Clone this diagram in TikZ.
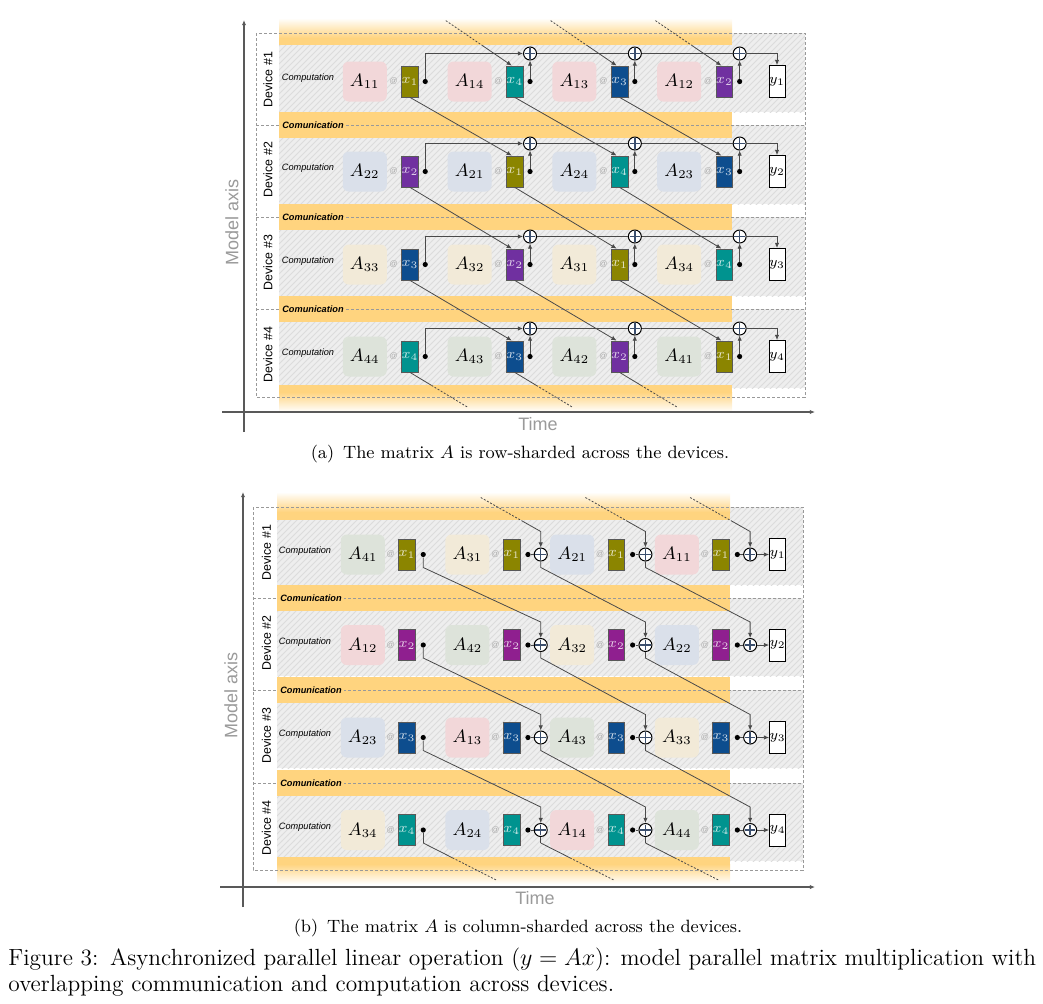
\documentclass[tikz,border=0pt]{standalone}
\usepackage{fontspec}
\setsansfont{Liberation Sans}
\usepackage{tikz}
\usetikzlibrary{positioning}
\usetikzlibrary{calc}
\usetikzlibrary{patterns}
\usetikzlibrary{arrows.meta}

\definecolor{commyellow}{HTML}{FFD47F}
\definecolor{hatchbg}{HTML}{EEEEEE}
\definecolor{hatchline}{HTML}{DCDCDC}
\definecolor{linegray}{HTML}{4A4A4A}
\definecolor{axisgray}{HTML}{9A9A9A}
\definecolor{plusblue}{HTML}{3B4F6E}
% vector colours
\definecolor{xa1}{HTML}{8B8500}
\definecolor{xa2}{HTML}{7030A0}
\definecolor{xa3}{HTML}{0D4D8E}
\definecolor{xa4}{HTML}{00938F}
\colorlet{xb1}{xa1}
\definecolor{xb2}{HTML}{8F1F8F}
\colorlet{xb3}{xa3}
\colorlet{xb4}{xa4}
% block colours (by row of A)
\definecolor{ac1}{HTML}{F2D7D9}
\definecolor{ac2}{HTML}{DAE0EA}
\definecolor{ac3}{HTML}{F2EAD8}
\definecolor{ac4}{HTML}{DDE3DA}

\tikzset{
  ablock/.style={rounded corners=3pt, minimum width=22pt, minimum height=20pt, inner sep=0pt, font=\fontsize{8.6}{9}\selectfont},
  xbox/.style={draw=gray!70!black, line width=0.4pt, minimum width=8pt, minimum height=15.5pt, inner sep=0pt, font=\fontsize{7.4}{8}\selectfont},
  ybox/.style={draw=black, line width=0.5pt, fill=white, minimum width=8pt, minimum height=16pt, inner sep=0pt, font=\fontsize{7.4}{8}\selectfont},
  sumnode/.style={circle, draw=black, line width=0.5pt, fill=white, minimum size=6.5pt, inner sep=0pt,
    path picture={\draw[plusblue, line width=0.7pt]
      ([yshift=-0.6pt]path picture bounding box.north) -- ([yshift=0.6pt]path picture bounding box.south)
      ([xshift=0.6pt]path picture bounding box.west) -- ([xshift=-0.6pt]path picture bounding box.east);}},
  dotnode/.style={circle, fill=black, minimum size=2.6pt, inner sep=0pt},
  atsign/.style={text=gray!65, font=\sffamily\fontsize{4}{4}\selectfont, inner sep=0pt},
  conn/.style={draw=linegray, line width=0.4pt},
  fadeline/.style={conn, dash pattern=on 1pt off 0.8pt},
  hatched/.style={fill=hatchbg, postaction={pattern=north east lines, pattern color=hatchline}},
  boxline/.style={draw=gray!80, line width=0.5pt, dash pattern=on 1.5pt off 1pt},
  devlabel/.style={rotate=90, font=\sffamily\fontsize{6.2}{6.2}\selectfont, inner sep=0pt},
  comptext/.style={font=\sffamily\itshape\fontsize{4.6}{5}\selectfont, inner sep=0pt},
  commtext/.style={font=\sffamily\bfseries\itshape\fontsize{4.6}{5}\selectfont, fill=commyellow, inner sep=1pt},
  axisline/.style={draw=gray!70!black, line width=0.6pt},
  axislabel/.style={text=axisgray, font=\sffamily\fontsize{9}{9}\selectfont, inner sep=0pt},
  subcap/.style={font=\fontsize{8.9}{10}\selectfont, inner sep=0pt},
  figcap/.style={font=\fontsize{11.7}{13}\selectfont, inner sep=0pt, anchor=west},
}

\begin{document}
\begin{tikzpicture}[x=0.5pt, y=-0.5pt, >={Latex[length=2.6pt,width=2.2pt]}]
\useasboundingbox (0,0) rectangle (1043,1003);

%% (a) row-sharded
% background
\foreach \t in {33,125,217,309} {
  \fill[hatched] (279,\t) rectangle (805,\t+79);
}
\foreach \t in {125,217,309} {
  \fill[commyellow] (279,\t-13) rectangle (732,\t+13);
}
\shade[top color=white, bottom color=commyellow] (279,18) rectangle (732,38);
\fill[commyellow] (279,38) rectangle (732,45);
\fill[commyellow] (279,385) rectangle (732,392);
\shade[top color=commyellow, bottom color=white] (279,392) rectangle (732,412);
\draw[boxline] (256,33) rectangle (805,397);
\foreach \t in {125,217,309} {
  \draw[boxline] (256,\t) -- (805,\t);
  \node[commtext] (a-comm-\t) at (313,\t) {Comunication};
}

% axes
\draw[axisline, ->] (244,432) -- (244,20);
\draw[axisline, ->] (222,412) -- (815,412);
\node[axislabel, rotate=90] (a-model) at (232,222) {Model axis};
\node[axislabel] (a-time) at (538,424) {Time};

% devices
\foreach \i/\ry in {1/81.5,2/171.5,3/264.5,4/356.5} {
  \node[devlabel] (a-dev-\i) at (268,\ry-2) {Device \#\i};
  \node[comptext] (a-comp-\i) at (308,\ry-3) {Computation};
  \foreach \j in {1,...,4} {
    \pgfmathtruncatemacro{\cc}{mod(\i-\j+4,4)+1}
    \node[xbox, fill=xa\cc, text=white!78!xa\cc] (a-x-\i-\j) at (410+104.8*\j-104.8,\ry) {$x_{\cc}$};
    \node[atsign, left=1.5pt of a-x-\i-\j] (a-at-\i-\j) {@};
    \node[ablock, fill=ac\i, left=7pt of a-x-\i-\j] (a-A-\i-\j) {$A_{\i\cc}$};
    \node[dotnode, right=1.7pt of a-x-\i-\j] (a-dot-\i-\j) {};
    \ifnum\j>1
      \node[sumnode] (a-sum-\i-\j) at ($(a-dot-\i-\j)+(0,-28)$) {};
    \fi
  }
  \node[ybox] (a-y-\i) at (777,\ry) {$y_{\i}$};

  % partial sums
  \draw[conn, ->] (a-dot-\i-1) |- (a-sum-\i-2);
  \foreach \j in {2,3,4} {
    \draw[conn, ->] (a-dot-\i-\j) -- (a-sum-\i-\j);
  }
  \draw[conn] (a-sum-\i-2) -- (a-sum-\i-3) -- (a-sum-\i-4);
  \draw[conn, ->] (a-sum-\i-4) -| (a-y-\i);
}

% x pieces passed to the next device
\foreach \i in {1,2,3} {
  \foreach \j in {1,2,3} {
    \pgfmathtruncatemacro{\nn}{\i+1}
    \pgfmathtruncatemacro{\nk}{\j+1}
    \draw[conn, ->] (a-x-\i-\j.south) -- ([xshift=-1.5pt]a-x-\nn-\nk.north);
  }
}
% leaving device #4
\foreach \j in {1,2,3} {
  \coordinate (a-out-\j) at ($(a-x-4-\j.south)+(58,35)$);
  \coordinate (a-cut-\j) at ($(a-x-4-\j.south)!0.37!(a-out-\j)$);
  \draw[conn] (a-x-4-\j.south) -- (a-cut-\j);
  \draw[fadeline] (a-cut-\j) -- (a-out-\j);
}
% arriving at device #1
\foreach \j in {2,3,4} {
  \coordinate (a-tgt-\j) at ([xshift=-1.5pt]a-x-1-\j.north);
  \coordinate (a-in-\j) at ($(a-tgt-\j)+(-66,-45)$);
  \coordinate (a-cutin-\j) at ($(a-in-\j)!0.55!(a-tgt-\j)$);
  \draw[fadeline] (a-in-\j) -- (a-cutin-\j);
  \draw[conn, ->] (a-cutin-\j) -- (a-tgt-\j);
}

\node[subcap] (a-cap) at (520,454) {(a)\enspace The matrix $A$ is row-sharded across the devices.};

%% (b) column-sharded
% background
\foreach \t in {507,598,690,783} {
  \fill[hatched] (277,\t) rectangle (803,\t+78);
}
\foreach \t in {598,690,783} {
  \fill[commyellow] (277,\t-13) rectangle (730,\t+13);
}
\shade[top color=white, bottom color=commyellow] (277,492) rectangle (730,512);
\fill[commyellow] (277,512) rectangle (730,520);
\fill[commyellow] (277,857) rectangle (730,864);
\shade[top color=commyellow, bottom color=white] (277,864) rectangle (730,884);
\draw[boxline] (253,507) rectangle (803,870);
\foreach \t in {598,690,783} {
  \draw[boxline] (253,\t) -- (803,\t);
  \node[commtext] (b-comm-\t) at (311,\t) {Comunication};
}

% axes
\draw[axisline, ->] (243,907) -- (243,492);
\draw[axisline, ->] (220,887) -- (815,887);
\node[axislabel, rotate=90] (b-model) at (231,695) {Model axis};
\node[axislabel] (b-time) at (535,898) {Time};

% devices
\foreach \i/\ry in {1/554.5,2/645,3/737.5,4/830} {
  \node[devlabel] (b-dev-\i) at (266.5,\ry-2) {Device \#\i};
  \node[comptext] (b-comp-\i) at (305,\ry-3) {Computation};
  \foreach \j in {1,...,4} {
    \pgfmathtruncatemacro{\rr}{mod(\i-\j+7,4)+1}
    \node[xbox, fill=xb\i, text=white!78!xb\i] (b-x-\i-\j) at (407+104.7*\j-104.7,\ry) {$x_{\i}$};
    \node[atsign, left=1.5pt of b-x-\i-\j] (b-at-\i-\j) {@};
    \node[ablock, fill=ac\rr, left=6.5pt of b-x-\i-\j] (b-A-\i-\j) {$A_{\rr\i}$};
    \node[dotnode, right=2.2pt of b-x-\i-\j] (b-dot-\i-\j) {};
    \ifnum\j>1
      \node[sumnode, right=1.4pt of b-dot-\i-\j] (b-sum-\i-\j) {};
      \draw[conn] (b-dot-\i-\j) -- (b-sum-\i-\j);
    \fi
  }
  \node[ybox, right=6pt of b-sum-\i-4] (b-y-\i) {$y_{\i}$};
  \draw[conn, ->] (b-sum-\i-4) -- (b-y-\i);
}

% partial sums passed to the next device
\foreach \i in {1,2,3} {
  \pgfmathtruncatemacro{\nn}{\i+1}
  \draw[conn, ->] (b-dot-\i-1) -- ++(0,13) -- ($(b-sum-\nn-2)+(0,-23)$) -- (b-sum-\nn-2);
  \foreach \j in {2,3} {
    \pgfmathtruncatemacro{\nk}{\j+1}
    \draw[conn, ->] (b-sum-\i-\j) -- ++(0,13) -- ($(b-sum-\nn-\nk)+(0,-23)$) -- (b-sum-\nn-\nk);
  }
}
% leaving device #4
\coordinate (b-drop-1) at ($(b-dot-4-1)+(0,13)$);
\draw[conn] (b-dot-4-1) -- (b-drop-1);
\foreach \j in {2,3} {
  \coordinate (b-drop-\j) at ($(b-sum-4-\j)+(0,13)$);
  \draw[conn] (b-sum-4-\j) -- (b-drop-\j);
}
\foreach \j in {1,2,3} {
  \coordinate (b-out-\j) at ($(b-drop-\j)+(73,37)$);
  \coordinate (b-cut-\j) at ($(b-drop-\j)!0.4!(b-out-\j)$);
  \draw[conn] (b-drop-\j) -- (b-cut-\j);
  \draw[fadeline] (b-cut-\j) -- (b-out-\j);
}
% arriving at device #1
\foreach \j in {2,3,4} {
  \coordinate (b-in-\j) at ($(b-sum-1-\j)+(-60,-57)$);
  \coordinate (b-bend-\j) at ($(b-sum-1-\j)+(0,-23)$);
  \coordinate (b-cutin-\j) at ($(b-in-\j)!0.68!(b-bend-\j)$);
  \draw[fadeline] (b-in-\j) -- (b-cutin-\j);
  \draw[conn, ->] (b-cutin-\j) -- (b-bend-\j) -- (b-sum-1-\j);
}

\node[subcap] (b-cap) at (518,928) {(b)\enspace The matrix $A$ is column-sharded across the devices.};

% figure caption
\node[figcap] (cap1) at (8,960) {Figure 3:\enspace Asynchronized parallel linear operation ($y = Ax$): model parallel matrix multiplication with};
\node[figcap] (cap2) at (8,986) {overlapping communication and computation across devices.};
\end{tikzpicture}
\end{document}
